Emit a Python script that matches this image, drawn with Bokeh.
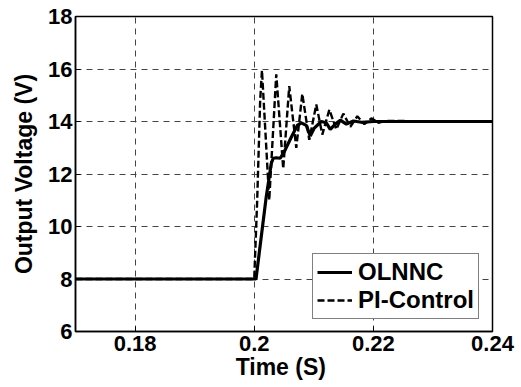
from bokeh.plotting import figure
from bokeh.models import FixedTicker, Legend, LegendItem, Range1d
from bokeh.embed import file_html
from bokeh.resources import INLINE

# ---- data ----
t_olnnc = [0.17, 0.2003, 0.2020, 0.20286, 0.20319, 0.20370, 0.20437, 0.20504,
           0.20622, 0.20723, 0.20790, 0.20874, 0.20941, 0.21008, 0.21126,
           0.21210, 0.21277, 0.21361, 0.21445, 0.21546, 0.21664, 0.2180,
           0.2200, 0.2400]
v_olnnc = [8.0, 8.0, 11.1, 12.4, 12.6, 12.62, 12.6, 12.85,
           13.4, 13.85, 13.95, 13.85, 13.45, 13.75, 14.0,
           13.95, 13.7, 13.9, 14.05, 13.9, 14.02, 13.97,
           14.0, 14.0]

t_pi = [0.17, 0.2000, 0.2005, 0.2010, 0.2013, 0.20252, 0.2037, 0.20487,
        0.20588, 0.20706, 0.20807, 0.20924, 0.21042, 0.21143, 0.21261,
        0.21378, 0.21496, 0.21613, 0.21731, 0.21849, 0.21966, 0.22084,
        0.2220, 0.2400]
v_pi = [8.0, 8.0, 11.0, 14.8, 15.95, 11.0, 15.8, 12.2,
        15.35, 13.0, 15.05, 13.3, 14.65, 13.5, 14.45,
        13.7, 14.3, 13.8, 14.2, 13.9, 14.12, 13.95,
        14.02, 14.0]

x_ticks = [0.18, 0.2, 0.22, 0.24]
x_tick_labels = ["0.18", "0.2", "0.22", "0.24"]
y_ticks = [6, 8, 10, 12, 14, 16, 18]
y_tick_labels = ["6", "8", "10", "12", "14", "16", "18"]

FONT = "Liberation Sans"

p = figure(width=521, height=387, x_range=Range1d(0.17, 0.24), y_range=Range1d(6, 18),
           output_backend="svg", toolbar_location=None,
           min_border_left=75, min_border_right=29, min_border_top=16, min_border_bottom=56)
p.background_fill_color = "white"
p.border_fill_color = "white"
p.outline_line_color = "black"
p.outline_line_width = 1.5

# grid
for g in (p.xgrid, p.ygrid):
    g.grid_line_color = "#444444"
    g.grid_line_dash = "6 5"
    g.grid_line_width = 1

p.xgrid.ticker = FixedTicker(ticks=x_ticks)
p.ygrid.ticker = FixedTicker(ticks=y_ticks)

# axes
xa = p.xaxis[0]
ya = p.yaxis[0]
xa.ticker = FixedTicker(ticks=x_ticks)
ya.ticker = FixedTicker(ticks=y_ticks)
xa.major_label_overrides = {t: s for t, s in zip(x_ticks, x_tick_labels)}
ya.major_label_overrides = {t: s for t, s in zip(y_ticks, y_tick_labels)}
for ax in (xa, ya):
    ax.axis_line_color = "black"
    ax.axis_line_width = 1.5
    ax.major_tick_in = 5
    ax.major_tick_out = 0
    ax.minor_tick_in = 0
    ax.minor_tick_out = 0
    ax.major_tick_line_color = "black"
    ax.major_label_text_font = FONT
    ax.major_label_text_font_style = "bold"
    ax.major_label_text_font_size = "22px"
    ax.major_label_text_color = "black"
    ax.axis_label_text_font = FONT
    ax.axis_label_text_font_style = "bold"
    ax.axis_label_text_font_size = "23px"
    ax.axis_label_text_color = "black"
xa.axis_label = "Time  (S)"
ya.axis_label = "Output Voltage (V)"
xa.major_label_standoff = 4
ya.major_label_standoff = 3
xa.axis_label_standoff = 0
ya.axis_label_standoff = 8

r_pi = p.line(t_pi, v_pi, line_color="black", line_width=2.4, line_dash="7 3")
r_ol = p.line(t_olnnc, v_olnnc, line_color="black", line_width=3.2)

legend = Legend(items=[LegendItem(label="OLNNC", renderers=[r_ol]),
                       LegendItem(label="PI-Control", renderers=[r_pi])],
                location=(237, 12))
legend.margin = 0
legend.padding = 4
legend.spacing = 0
legend.glyph_width = 35
legend.glyph_height = 24
legend.label_height = 24
legend.label_standoff = 6
legend.label_text_font = FONT
legend.label_text_font_style = "bold"
legend.label_text_font_size = "24px"
legend.label_text_color = "black"
legend.border_line_color = "black"
legend.border_line_width = 1.5
legend.background_fill_color = "white"
legend.background_fill_alpha = 1
p.add_layout(legend)

open("out.html", "w").write(file_html(p, INLINE))
